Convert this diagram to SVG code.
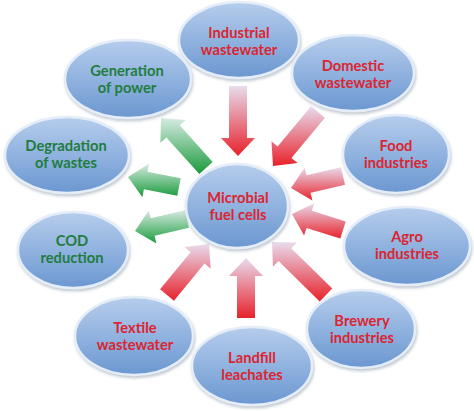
<svg xmlns="http://www.w3.org/2000/svg" width="474" height="411" viewBox="0 0 474 411">
<style>
.node ellipse{fill:url(#blue);stroke:#e4edf8;stroke-width:2.5;filter:url(#sh)}
.t{font-family:Lato,"Liberation Sans",sans-serif;font-weight:bold;font-size:14.7px;text-anchor:middle}
.r{fill:#dc2530}
.g{fill:#1f7d3e}
.ra{fill:url(#red)}
.ga{fill:url(#green)}
</style>
<defs>
<linearGradient id="blue" x1="0" y1="0" x2="0" y2="1">
<stop offset="0" stop-color="#b6cdec"/>
<stop offset="0.55" stop-color="#8db0de"/>
<stop offset="1" stop-color="#6b97d0"/>
</linearGradient>
<linearGradient id="red" x1="0" y1="0" x2="0" y2="1">
<stop offset="0" stop-color="#e8dcee"/>
<stop offset="1" stop-color="#e8222b"/>
</linearGradient>
<linearGradient id="green" x1="0" y1="0" x2="0" y2="1">
<stop offset="0" stop-color="#d6ebe2"/>
<stop offset="1" stop-color="#1a9b3c"/>
</linearGradient>
<filter id="sh" x="-20%" y="-20%" width="140%" height="150%">
<feDropShadow dx="1" dy="2" stdDeviation="1.5" flood-color="#7f8ea0" flood-opacity="0.5"/>
</filter>
</defs>
<rect width="474" height="411" fill="#ffffff"/>
<g id="connectors">
<polygon class="ra" points="229,86 229,138 221,138 238,156 255,138 247,138 247,86"/>
<polygon class="ra" points="311.09,106.24 277.61,146.41 271.46,141.29 273,166 297.58,163.05 291.43,157.93 324.91,117.76"/>
<polygon class="ra" points="340.98,167.23 306.52,175.18 304.72,167.39 291,188 312.36,200.51 310.56,192.72 345.02,184.77"/>
<polygon class="ra" points="345.69,221.41 311.87,210.8 314.27,203.17 292,214 304.09,235.61 306.49,227.98 340.31,238.59"/>
<polygon class="ra" points="332.3,288.58 291.15,248.19 296.76,242.48 272,242 272.94,266.74 278.55,261.03 319.7,301.42"/>
<polygon class="ra" points="255,318 255,276 263,276 246,258 229,276 237,276 237,318"/>
<polygon class="ra" points="173.95,300.72 204.51,263.61 210.68,268.7 209,244 184.44,247.08 190.61,252.17 160.05,289.28"/>
<polygon class="ga" points="212.69,161.98 179.73,125.36 185.68,120.01 161,118 160.4,142.75 166.35,137.4 199.31,174.02"/>
<polygon class="ga" points="180.73,178.17 147.39,171.63 148.93,163.78 128,177 142.39,197.14 143.93,189.29 177.27,195.83"/>
<polygon class="ga" points="184.98,210.23 150.52,218.18 148.72,210.39 135,231 156.36,243.51 154.56,235.72 189.02,227.77"/>
</g>
<g id="industrial" class="node"><ellipse cx="239" cy="40" rx="60" ry="38"/><text class="t r" x="239" y="38">Industrial</text><text class="t r" x="239" y="55">wastewater</text></g>
<g id="domestic" class="node"><ellipse cx="353" cy="73" rx="61" ry="38"/><text class="t r" x="353" y="71">Domestic</text><text class="t r" x="353" y="88">wastewater</text></g>
<g id="food" class="node"><ellipse cx="396" cy="154" rx="53" ry="39"/><text class="t r" x="396" y="151">Food</text><text class="t r" x="396" y="168">industries</text></g>
<g id="agro" class="node"><ellipse cx="407" cy="246" rx="63" ry="39"/><text class="t r" x="407" y="242">Agro</text><text class="t r" x="407" y="259">industries</text></g>
<g id="brewery" class="node"><ellipse cx="361" cy="329" rx="54" ry="39"/><text class="t r" x="362" y="326">Brewery</text><text class="t r" x="362" y="343">industries</text></g>
<g id="landfill" class="node"><ellipse cx="252" cy="366" rx="60" ry="39"/><text class="t r" x="252" y="363">Landfill</text><text class="t r" x="252" y="380">leachates</text></g>
<g id="textile" class="node"><ellipse cx="134" cy="336" rx="59" ry="39"/><text class="t r" x="135" y="333">Textile</text><text class="t r" x="135" y="350">wastewater</text></g>
<g id="cod" class="node"><ellipse cx="73" cy="250" rx="55" ry="38"/><text class="t g" x="72" y="246">COD</text><text class="t g" x="72" y="263">reduction</text></g>
<g id="degradation" class="node"><ellipse cx="67" cy="155" rx="62" ry="38"/><text class="t g" x="66" y="151">Degradation</text><text class="t g" x="66" y="168">of wastes</text></g>
<g id="generation" class="node"><ellipse cx="128" cy="79" rx="63" ry="39"/><text class="t g" x="127" y="76">Generation</text><text class="t g" x="127" y="93">of power</text></g>
<g id="mfc" class="node"><ellipse cx="237" cy="206" rx="51" ry="42"/><text class="t r" x="238" y="203">Microbial</text><text class="t r" x="238" y="220">fuel cells</text></g>
</svg>
